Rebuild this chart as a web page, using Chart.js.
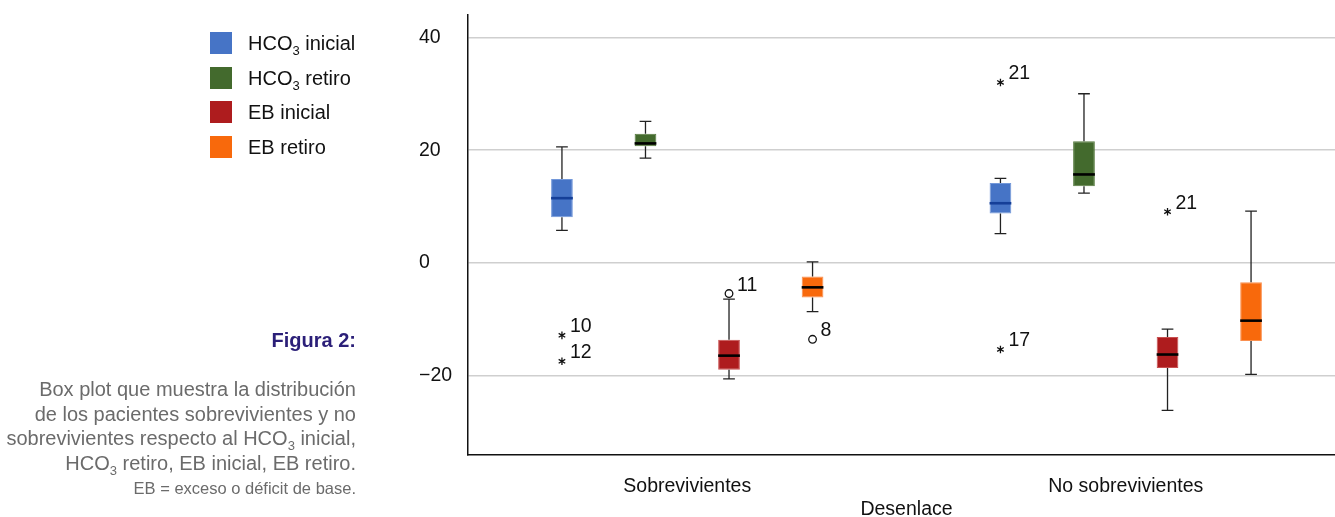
<!DOCTYPE html>
<html>
<head>
<meta charset="utf-8">
<script src="https://cdn.jsdelivr.net/npm/chart.js@4/dist/chart.umd.min.js"></script>
<style>
  body { margin: 0; width: 1335px; height: 517px; overflow: hidden; background: #fff; font-family: "Liberation Sans", Arial, Helvetica, sans-serif; position: relative; }
  #myChart { position: absolute; left: 0; top: 0; }
  #legend { position: absolute; left: 210px; top: 32px; }
  .item { height: 34.5px; display: flex; align-items: flex-start; font-size: 20px; color: #111; }
  .sw { width: 22px; height: 22px; margin-right: 16px; flex: none; }
  .item span.t { line-height: 22px; }
  sub { font-size: 13px; line-height: 0; vertical-align: -5px; }
  #caption { position: absolute; left: 0; width: 356px; top: 329px; text-align: right; }
  #caption .fig { color: #2b1f78; font-weight: bold; font-size: 20px; margin-bottom: 25px; }
  #caption .txt { color: #6b6b6b; font-size: 20px; line-height: 24.5px; }
  #caption .small { font-size: 16.5px; line-height: 20px; }
</style>
</head>
<body>
<canvas id="myChart" width="1345" height="517"></canvas>
<div id="legend"></div>
<div id="caption">
  <div class="fig">Figura 2:</div>
  <div class="txt">Box plot que muestra la distribución<br>de los pacientes sobrevivientes y no<br>sobrevivientes respecto al HCO<sub>3</sub> inicial,<br>HCO<sub>3</sub> retiro, EB inicial, EB retiro.<br><span class="small">EB = exceso o déficit de base.</span></div>
</div>
<script>
let categorias = ['Sobrevivientes', 'No sobrevivientes'];
let series = ['HCO3 inicial', 'HCO3 retiro', 'EB inicial', 'EB retiro'];
let yTicks = [-20, 0, 20, 40];

// [min, q1, mediana, q3, max] por categoria
let hco3Inicial = [[5.8, 8.1, 11.5, 14.9, 20.6], [5.2, 8.8, 10.6, 14.2, 15.0]];
let hco3Retiro  = [[18.6, 20.7, 21.2, 22.9, 25.1], [12.4, 13.6, 15.7, 21.6, 30.0]];
let ebInicial   = [[-20.5, -18.9, -16.4, -13.6, -6.4], [-26.1, -18.6, -16.2, -13.1, -11.7]];
let ebRetiro    = [[-8.6, -6.1, -4.3, -2.4, 0.2], [-19.7, -13.8, -10.2, -3.4, 9.2]];

// valores atipicos
let outCat    = [0, 0, 0, 0, 1, 1, 1];
let outSerie  = [0, 0, 2, 3, 0, 0, 2];
let outValor  = [-12.8, -17.4, -5.4, -13.5, 32.0, -15.3, 9.1];
let outLabel  = ['10', '12', '11', '8', '21', '17', '21'];
let outForma  = ['star', 'star', 'circle', 'circle', 'star', 'star', 'star'];

let cores   = ['#4674c6', '#436a2d', '#ae1c1e', '#f8690c'];
let bordas  = ['#7398da', '#557a3e', '#c85050', '#fa9050'];
let medianas = ['#153f98', '#000000', '#000000', '#000000'];

let stats = [hco3Inicial, hco3Retiro, ebInicial, ebRetiro];

// legenda em html (subscrito)
let leg = document.getElementById('legend');
series.forEach((s, i) => {
  let d = document.createElement('div');
  d.className = 'item';
  d.innerHTML = '<div class="sw" style="background:' + cores[i] + '"></div><span class="t">' + s.replace('HCO3', 'HCO<sub>3</sub>') + '</span>';
  leg.appendChild(d);
});

let fonte = { family: '"Liberation Sans", Arial, Helvetica, sans-serif', size: 19.5 };

let boxPlugin = {
  id: 'boxplot',
  afterDatasetsDraw(chart) {
    let ctx = chart.ctx;
    let y = chart.scales.y;
    ctx.save();
    stats.forEach((st, i) => {
      let meta = chart.getDatasetMeta(i);
      meta.data.forEach((bar, j) => {
        let [mn, q1, md, q3, mx] = st[j];
        let x = bar.x, w = bar.width;
        ctx.strokeStyle = '#222';
        ctx.lineWidth = 1.3;
        ctx.beginPath();
        ctx.moveTo(x, y.getPixelForValue(q3)); ctx.lineTo(x, y.getPixelForValue(mx));
        ctx.moveTo(x, y.getPixelForValue(q1)); ctx.lineTo(x, y.getPixelForValue(mn));
        ctx.moveTo(x - w * 0.27, y.getPixelForValue(mx)); ctx.lineTo(x + w * 0.27, y.getPixelForValue(mx));
        ctx.moveTo(x - w * 0.27, y.getPixelForValue(mn)); ctx.lineTo(x + w * 0.27, y.getPixelForValue(mn));
        ctx.stroke();
        ctx.strokeStyle = medianas[i];
        ctx.lineWidth = 2.6;
        ctx.beginPath();
        ctx.moveTo(x - w / 2, y.getPixelForValue(md)); ctx.lineTo(x + w / 2, y.getPixelForValue(md));
        ctx.stroke();
      });
    });
    // atipicos
    ctx.font = '19.5px ' + fonte.family;
    ctx.textBaseline = 'alphabetic';
    ctx.textAlign = 'left';
    outValor.forEach((v, k) => {
      let bar = chart.getDatasetMeta(outSerie[k]).data[outCat[k]];
      let px = bar.x, py = y.getPixelForValue(v);
      ctx.strokeStyle = '#111';
      ctx.lineWidth = 1.3;
      if (outForma[k] == 'circle') {
        ctx.fillStyle = '#fff';
        ctx.beginPath();
        ctx.arc(px, py, 3.8, 0, Math.PI * 2);
        ctx.fill();
        ctx.stroke();
      } else {
        ctx.beginPath();
        for (let a = 0; a < 3; a++) {
          let ang = -Math.PI / 2 + a * Math.PI / 3;
          ctx.moveTo(px + 3.8 * Math.cos(ang), py + 3.8 * Math.sin(ang));
          ctx.lineTo(px - 3.8 * Math.cos(ang), py - 3.8 * Math.sin(ang));
        }
        ctx.stroke();
      }
      ctx.fillStyle = '#111';
      ctx.fillText(outLabel[k], px + 8, py - 3);
    });
    ctx.restore();
  }
};

let ctx = document.getElementById('myChart').getContext('2d');
let myChart = new Chart(ctx, {
  type: 'bar',
  data: {
    labels: categorias,
    datasets: series.map((s, i) => ({
      label: s,
      data: stats[i].map(d => [d[1], d[3]]),
      backgroundColor: cores[i],
      borderColor: bordas[i],
      borderWidth: 1,
      borderSkipped: false,
      categoryPercentage: 0.762,
      barPercentage: 0.26
    }))
  },
  options: {
    responsive: false,
    animation: false,
    layout: { padding: { left: 419, top: 12, right: 0, bottom: 0 } },
    plugins: { legend: { display: false }, tooltip: { enabled: false } },
    scales: {
      x: {
        grid: { display: false },
        border: { color: '#111', width: 1.5 },
        ticks: { font: fonte, color: '#111', padding: 12 },
        title: { display: true, text: 'Desenlace', font: fonte, color: '#111', padding: { top: 0, bottom: -4 } },
        afterFit: s => { s.height = 62; }
      },
      y: {
        min: -34,
        max: 44,
        afterBuildTicks: s => { s.ticks = yTicks.map(v => ({ value: v })); },
        grid: { color: '#cfcfcf', lineWidth: 1.5, drawTicks: false },
        border: { color: '#111', width: 1.5 },
        ticks: {
          font: fonte, color: '#111', crossAlign: 'far',
          callback: v => String(v).replace('-', '\u2212')
        },
        afterFit: s => { s.width = 49; }
      }
    }
  },
  plugins: [boxPlugin]
});
</script>
</body>
</html>
